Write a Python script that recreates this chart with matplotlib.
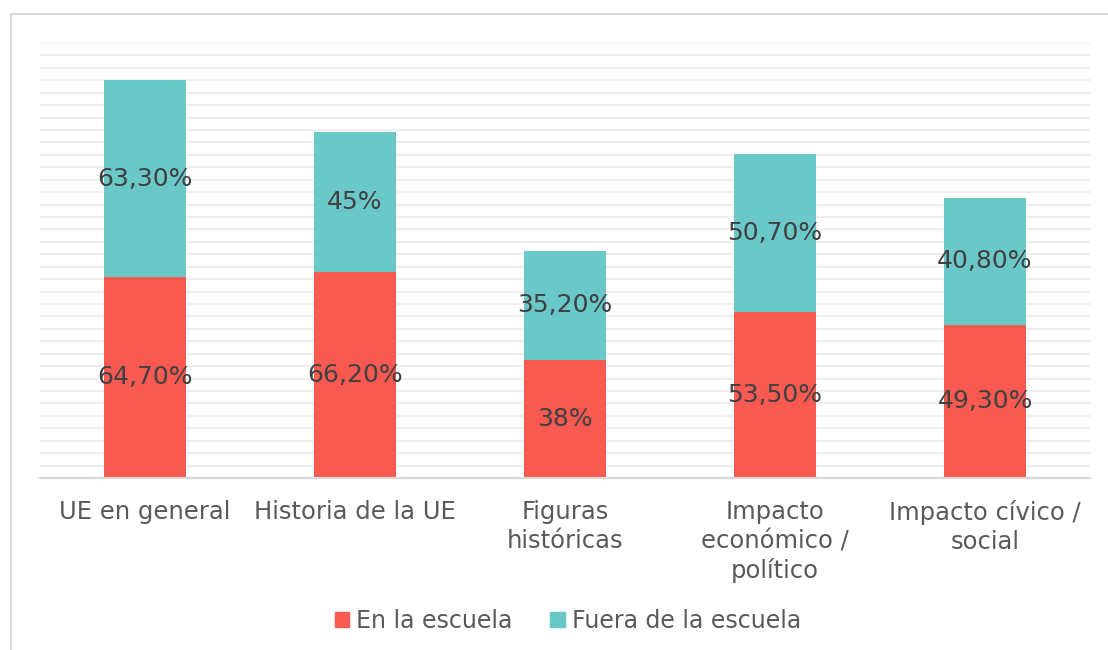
import matplotlib
matplotlib.use("Agg")
import matplotlib.pyplot as plt
from matplotlib.patches import Rectangle, Patch
import numpy as np

categories = ["UE en general", "Historia de la UE", "Figuras\nhistóricas",
              "Impacto\neconómico /\npolítico", "Impacto cívico /\nsocial"]
en_la_escuela = [64.7, 66.2, 38.0, 53.5, 49.3]
fuera_escuela = [63.3, 45.0, 35.2, 50.7, 40.8]
labels_en = ["64,70%", "66,20%", "38%", "53,50%", "49,30%"]
labels_fuera = ["63,30%", "45%", "35,20%", "50,70%", "40,80%"]
series_names = ["En la escuela", "Fuera de la escuela"]

RED = "#F85A52"
TEAL = "#6AC8C9"

plt.rcParams['font.family'] = ['DejaVu Sans']
W, H = 1108, 650
fig = plt.figure(figsize=(W / 100, H / 100), dpi=100)

# outer frame (only left & top visible)
fig.patches.append(Rectangle((11 / W, -0.1), 1.2, 1 - 14 / H + 0.1,
                             transform=fig.transFigure, fill=False,
                             edgecolor="#D9D9D9", linewidth=1.5))

ax = fig.add_axes([40 / W, 1 - 478 / H, 1050 / W, 435 / H])
x = np.arange(len(categories))
bw = 0.395
ax.bar(x, en_la_escuela, bw, color=RED, zorder=3)
ax.bar(x, fuera_escuela, bw, bottom=en_la_escuela, color=TEAL, zorder=3)

for i in range(len(categories)):
    ax.text(x[i], en_la_escuela[i] / 2, labels_en[i], ha="center", va="center",
            fontsize=18, color="#404040", zorder=4)
    ax.text(x[i], en_la_escuela[i] + fuera_escuela[i] / 2, labels_fuera[i],
            ha="center", va="center", fontsize=18, color="#404040", zorder=4)

ax.set_xlim(-0.5, 4.5)
ax.set_ylim(0, 140)
ax.set_yticks(np.arange(0, 141, 4))
ax.yaxis.grid(True, color="#EFEFEF", linewidth=1.6, zorder=0)
ax.tick_params(axis="y", left=False, labelleft=False)
ax.tick_params(axis="x", length=0, pad=16, labelsize=17.5, labelcolor="#595959")
ax.set_xticks(x)
ax.set_xticklabels(categories, linespacing=1.26, va="top")
for s in ["left", "right", "top"]:
    ax.spines[s].set_visible(False)
ax.spines["bottom"].set_color("#D9D9D9")
ax.spines["bottom"].set_linewidth(1.5)
ax.spines["bottom"].set_zorder(5)

handles = [Patch(color=RED), Patch(color=TEAL)]
fig.legend(handles, series_names, loc="center", bbox_to_anchor=(568 / W, 1 - 621 / H),
           ncol=2, frameon=False, fontsize=17, labelcolor="#595959",
           handlelength=0.6, handleheight=0.6, handletextpad=0.3, columnspacing=1.6)

fig.savefig("out.png", dpi=100, facecolor="white")
